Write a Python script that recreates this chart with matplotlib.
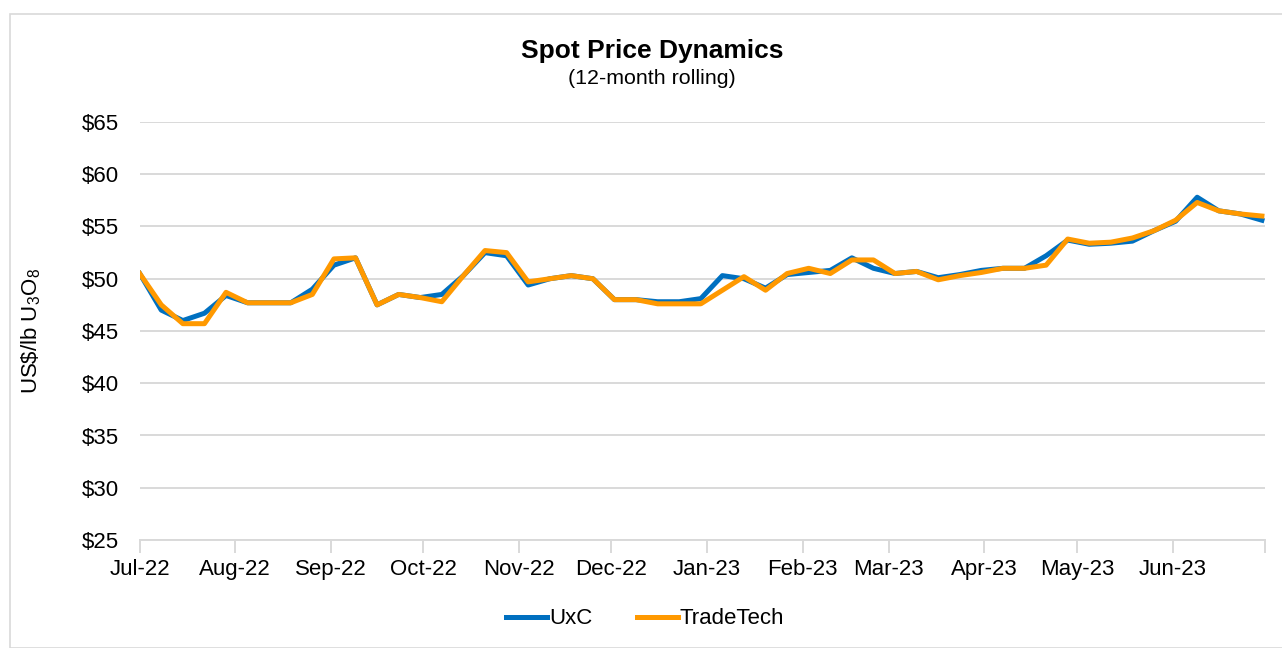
import matplotlib
matplotlib.use("Agg")
import matplotlib.pyplot as plt
import pandas as pd
from matplotlib.patches import Rectangle

plt.rcParams['font.family'] = ['Liberation Sans', 'DejaVu Sans']
plt.rcParams['mathtext.fontset'] = 'custom'
plt.rcParams['mathtext.rm'] = 'Liberation Sans'
plt.rcParams['mathtext.it'] = 'Liberation Sans'
plt.rcParams['mathtext.default'] = 'regular'

dates = pd.date_range('2022-07-01', periods=53, freq='7D')
uxc = [50.5, 47.0, 46.0, 46.7, 48.4, 47.7, 47.7, 47.7, 49.0, 51.3,
       52.0, 47.5, 48.5, 48.2, 48.5, 50.3, 52.5, 52.2, 49.4, 50.0,
       50.3, 50.0, 48.0, 48.0, 47.8, 47.8, 48.1, 50.3, 50.0, 49.1,
       50.4, 50.6, 50.8, 52.0, 51.0, 50.5, 50.7, 50.1, 50.4, 50.8,
       51.0, 51.0, 52.2, 53.7, 53.3, 53.4, 53.6, 54.6, 55.5, 57.8,
       56.5, 56.2, 55.6]
tradetech = [50.5, 47.5, 45.7, 45.7, 48.7, 47.7, 47.7, 47.7, 48.5, 51.9,
             52.0, 47.5, 48.5, 48.2, 47.8, 50.3, 52.7, 52.5, 49.7, 50.0,
             50.3, 50.0, 48.0, 48.0, 47.6, 47.6, 47.6, 48.9, 50.2, 48.9,
             50.5, 51.0, 50.5, 51.8, 51.8, 50.5, 50.7, 49.9, 50.3, 50.6,
             51.0, 51.0, 51.3, 53.8, 53.4, 53.5, 53.9, 54.6, 55.6, 57.3,
             56.5, 56.2, 56.0]
month_ticks = pd.date_range('2022-07-01', '2023-07-01', freq='MS')
month_labels = [d.strftime('%b-%y') for d in month_ticks[:-1]] + ['']
y_ticks = [25, 30, 35, 40, 45, 50, 55, 60, 65]

fig = plt.figure(figsize=(12.82, 6.48), dpi=100)
fig.patches.append(Rectangle((10 / 1282, 0), 1.0, 1 - 14 / 648, transform=fig.transFigure,
                             fill=False, edgecolor='#D9D9D9', linewidth=1.2))
ax = fig.add_axes([139.7 / 1282, 1 - 540 / 648, (1265 - 139.7) / 1282, (540 - 122) / 648])

ax.plot(dates, uxc, color='#0070C0', lw=3.6, label='UxC', solid_joinstyle='round', zorder=3)
ax.plot(dates, tradetech, color='#FF9900', lw=3.6, label='TradeTech', solid_joinstyle='round', zorder=4)

ax.set_xlim(month_ticks[0], month_ticks[-1])
ax.set_ylim(25, 65)
ax.set_xticks(month_ticks)
ax.set_xticklabels(month_labels, fontsize=16)
ax.set_yticks(y_ticks)
ax.set_yticklabels(['$%d' % v for v in y_ticks], fontsize=16)
ax.grid(axis='y', color='#D9D9D9', lw=1.4)
ax.set_axisbelow(True)
for s in ['top', 'right', 'left']:
    ax.spines[s].set_visible(False)
ax.spines['bottom'].set_color('#D9D9D9')
ax.spines['bottom'].set_linewidth(1.4)
ax.tick_params(axis='x', colors='#D9D9D9', length=9, width=1.4, labelcolor='black', pad=5)
ax.tick_params(axis='y', length=0, pad=15)

fig.text(31 / 1282, 1 - 331 / 648, r'US\$/lb U$_3$O$_8$', rotation=90, ha='center', va='center', fontsize=16)

fig.text(652 / 1282, 1 - 51 / 648, 'Spot Price Dynamics', ha='center', va='center', fontsize=19, fontweight='bold')
fig.text(652 / 1282, 1 - 79 / 648, '(12-month rolling)', ha='center', va='center', fontsize=15.4)

fig.legend(loc='center', bbox_to_anchor=(645 / 1282, 1 - 619 / 648), ncol=2, frameon=False,
           fontsize=16, handlelength=1.85, handletextpad=0.1, columnspacing=2.0)

fig.savefig('out.png', dpi=100)
